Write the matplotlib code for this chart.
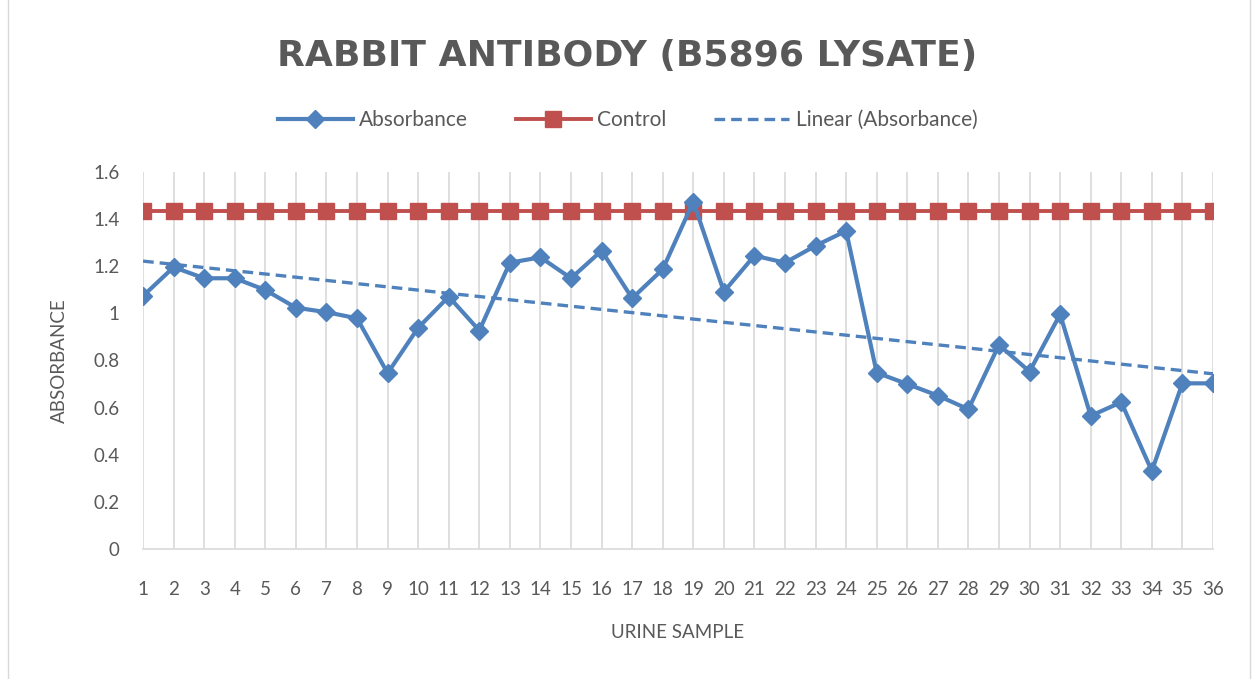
import numpy as np
import matplotlib.pyplot as plt
from matplotlib.patches import Rectangle

samples = list(range(1, 37))
absorbance = [1.074, 1.196, 1.149, 1.149, 1.099, 1.024, 1.005, 0.979, 0.746, 0.939,
              1.071, 0.927, 1.215, 1.238, 1.149, 1.266, 1.064, 1.187, 1.474, 1.092,
              1.245, 1.215, 1.287, 1.350, 0.748, 0.700, 0.651, 0.593, 0.866, 0.753,
              0.996, 0.565, 0.623, 0.331, 0.703, 0.703]
control = [1.436] * 36

title = 'RABBIT ANTIBODY (B5896 LYSATE)'
blue = '#4F81BD'
red = '#C0504D'
text_color = '#595959'

plt.rcParams['font.family'] = ['Lato', 'DejaVu Sans']

fig = plt.figure(figsize=(12.55, 6.79), dpi=100)
ax = fig.add_axes([0.114, 0.1915, 0.8525, 0.5552])

x = np.array(samples)
y = np.array(absorbance)
coef = np.polyfit(x, y, 1)
trend = np.polyval(coef, x)

ax.plot(x, y, color=blue, linewidth=3, marker='D', markersize=9, label='Absorbance', zorder=4)
ax.plot(x, control, color=red, linewidth=2.8, marker='s', markersize=12, label='Control', zorder=3)
ax.plot(x, trend, color=blue, linewidth=2.4, linestyle=(0, (3.2, 1.8)), label='Linear (Absorbance)', zorder=5)

ax.set_xlim(1, 36)
ax.set_ylim(0, 1.6)
ax.set_xticks(samples)
ax.set_yticks(np.arange(0, 1.61, 0.2))
ax.set_yticklabels(['0', '0.2', '0.4', '0.6', '0.8', '1', '1.2', '1.4', '1.6'])
ax.tick_params(axis='both', length=0, labelsize=13.5, colors=text_color)
ax.tick_params(axis='x', pad=23)
ax.tick_params(axis='y', pad=17)
ax.grid(axis='x', color='#d9d9d9', linewidth=1.2)
ax.set_axisbelow(True)
for side in ['top', 'right', 'left']:
    ax.spines[side].set_visible(False)
ax.spines['bottom'].set_color('#d9d9d9')
ax.spines['bottom'].set_linewidth(1.2)

ax.set_xlabel('URINE SAMPLE', fontsize=13.5, color=text_color, labelpad=19)
ax.set_ylabel('ABSORBANCE', fontsize=13.5, color=text_color, labelpad=18)

fig.text(0.5, 0.918, title, ha='center', va='center', fontsize=26, fontweight='bold',
         color=text_color, family=['DejaVu Sans'])

leg = ax.legend(loc='center', bbox_to_anchor=(0.5, 0.823), bbox_transform=fig.transFigure,
                ncol=3, frameon=False, fontsize=15, handlelength=3.6, columnspacing=2.3,
                handletextpad=0.3)
for t in leg.get_texts():
    t.set_color(text_color)

fig.patches.append(Rectangle((0.006, -0.01), 0.99, 1.02, transform=fig.transFigure,
                             fill=False, edgecolor='#d9d9d9', linewidth=1))

fig.savefig('out.png', dpi=100)
